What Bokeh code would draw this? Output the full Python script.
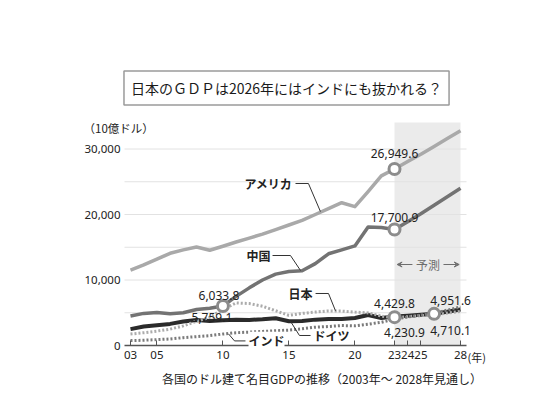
from bokeh.plotting import figure
from bokeh.models import (Range1d, FixedTicker, NumeralTickFormatter, BoxAnnotation,
                          Label, Arrow, VeeHead)
from bokeh.embed import file_html
from bokeh.resources import INLINE

# ---------------- data ----------------
years = list(range(2003, 2029))
usa = [11500, 12300, 13200, 14080, 14600, 15040, 14540, 15150, 15800, 16400, 17000, 17700, 18400,
       19100, 20000, 20900, 21800, 21200, 23500, 25900, 26949.6, 28100, 29200, 30400, 31600, 32800]
china = [4500, 4900, 5050, 4850, 5000, 5500, 5700, 6033.8, 7500, 8800, 10000, 10900, 11300,
         11400, 12500, 14000, 14600, 15200, 18100, 18000, 17700.9, 18900, 20100, 21400, 22700, 24000]
germany = [2500, 2900, 3100, 3300, 3650, 3900, 3750, 3850, 3950, 3900, 4000, 4150, 3700,
           3750, 3950, 4050, 4050, 4200, 4650, 4200, 4429.8, 4550, 4700, 4850, 5150, 5500]
japan = [1750, 1950, 2200, 2500, 3000, 3700, 4300, 5500, 6500, 6400, 6000, 5300, 4600,
         4900, 5100, 5280, 5250, 5100, 4980, 4500, 4230.9, 4400, 4550, 4710.1, 4950, 5200]
india = [750, 800, 900, 1000, 1200, 1350, 1500, 1750, 1950, 2050, 2150, 2250, 2350,
         2550, 2800, 2900, 3050, 3000, 3250, 3550, 4000, 4350, 4650, 4951.6, 5400, 5900]

callout_values = [26949.6, 17700.9, 6033.8, 5759.1, 4429.8, 4230.9, 4951.6, 4710.1]
x_ticks = [2003, 2005, 2010, 2015, 2020, 2023, 2024, 2025, 2028]
x_tick_labels = ["03", "05", "10", "15", "20", "23", "24", "25", "28"]
y_ticks = [0, 10000, 20000, 30000]
grid_ticks = [5000, 10000, 15000, 20000, 25000, 30000]
forecast_start, forecast_end = 2023, 2028

title_text = "日本のＧＤＰは2026年にはインドにも抜かれる？"
caption_text = "各国のドル建て名目GDPの推移（2003年～ 2028年見通し）"
unit_text = "（10億ドル）"
year_unit = "(年)"
forecast_text = "予測"

JP = "Noto Sans CJK JP"
NUM = "Noto Sans"

# ---------------- figure: frame covers the whole canvas, axes pinned ----------------
W, H = 524, 394
PX_YEAR = 13.2        # pixels per year
PX_K = 6.55           # pixels per 1000
X0_PIX, Y0_PIX = 130, 345   # pixel of (2003, 0)
x_lo = 2003 - X0_PIX / PX_YEAR
x_hi = 2003 + (W - X0_PIX) / PX_YEAR
y_lo = -(H - Y0_PIX) / PX_K * 1000
y_hi = Y0_PIX / PX_K * 1000
left_edge = 2003 - 6 / PX_YEAR
right_edge = 2028 + 6 / PX_YEAR

p = figure(width=W, height=H, x_range=Range1d(x_lo, x_hi), y_range=Range1d(y_lo, y_hi),
           output_backend="svg", toolbar_location=None, min_border=0)
p.outline_line_color = None
p.background_fill_color = "white"
p.border_fill_color = "white"
p.xgrid.visible = False
p.ygrid.visible = False

xa = p.xaxis[0]
xa.fixed_location = 0
xa.bounds = (left_edge, right_edge)
xa.ticker = FixedTicker(ticks=x_ticks)
xa.major_label_overrides = {t: l for t, l in zip(x_ticks, x_tick_labels)}
xa.axis_line_color = "#555555"
xa.axis_line_width = 1.5
xa.major_tick_line_color = "#555555"
xa.major_tick_in = 5
xa.major_tick_out = 0
xa.minor_tick_line_color = None
xa.major_label_standoff = 5
xa.major_label_text_font = NUM
xa.major_label_text_font_size = "11.5px"
xa.major_label_text_color = "#222222"

ya = p.yaxis[0]
ya.fixed_location = left_edge
ya.ticker = FixedTicker(ticks=y_ticks)
ya.formatter = NumeralTickFormatter(format="0,0")
ya.axis_line_color = None
ya.major_tick_line_color = None
ya.major_tick_in = 0
ya.major_tick_out = 0
ya.minor_tick_line_color = None
ya.major_label_standoff = 4
ya.major_label_text_font = NUM
ya.major_label_text_font_size = "11.5px"
ya.major_label_text_color = "#222222"

# forecast shading
p.add_layout(BoxAnnotation(left=forecast_start, right=forecast_end, bottom=0, top=34046,
                           fill_color="#ebebeb", fill_alpha=1, line_color=None, level="underlay"))

# horizontal grid lines
p.segment(x0=[left_edge] * len(grid_ticks), x1=[right_edge] * len(grid_ticks),
          y0=grid_ticks, y1=grid_ticks, line_color="#e2e2e2", line_width=1)

# ---------------- lines ----------------
p.line(years, usa, line_color="#a9a9a9", line_width=3.5, line_join="round")
p.line(years, china, line_color="#737373", line_width=3.5, line_join="round")
p.line(years, germany, line_color="#2b2b2b", line_width=4, line_join="round")
p.line(years, japan, line_color="#ababab", line_width=3, line_dash="2 2")
p.line(years, india, line_color="#7a7a7a", line_width=3, line_dash="2 2")

# markers
i10 = years.index(2010)
i23 = years.index(2023)
i26 = years.index(2026)
mx = [2010, 2023, 2023, 2023, 2026]
my = [china[i10], usa[i23], china[i23], (germany[i23] + japan[i23]) / 2, (india[i26] + japan[i26]) / 2]
p.scatter(mx, my, size=11, fill_color="white", line_color="#8c8c8c", line_width=3)

# ---------------- callout value labels ----------------
anchors = [(2023, usa[i23]), (2023, china[i23]), (2010, china[i10]), (2010, china[i10]),
           (2023, my[3]), (2023, my[3]), (2026, my[4]), (2026, my[4])]
offsets = [(0, 15.5), (0, 12.5), (-4, 10.5), (-11, -12), (0, 13.5), (10, -15.5), (16.5, 13.5), (16.5, -16.5)]
for v, (ax, ay), (ox, oy) in zip(callout_values, anchors, offsets):
    p.add_layout(Label(x=ax, y=ay, x_offset=ox, y_offset=oy, text=f"{v:,.1f}",
                       text_font=NUM, text_font_size="12px", text_color="#222222",
                       text_align="center", text_baseline="middle"))

# ---------------- series name labels & leaders ----------------
def name_label(x, y, text, align, bg=None):
    p.add_layout(Label(x=x, y=y, text=text, text_font=JP, text_font_size="12px",
                       text_font_style="bold", text_color="#222222",
                       text_align=align, text_baseline="middle",
                       background_fill_color=bg, background_fill_alpha=1 if bg else 0))

name_label(2015.27, 24733, "アメリカ", "right")
name_label(2013.60, 13740, "中国", "right")
name_label(2016.79, 7939, "日本", "right")
name_label(2016.86, 1527, "ドイツ", "left")
name_label(2011.94, 800, "インド", "left", bg="white")

leader_xs = [[2015.50, 2016.48, 2017.39], [2013.76, 2015.12, 2015.88], [2017.02, 2018.00, 2018.53],
             [2016.64, 2015.80, 2015.12], [2011.71, 2010.88, 2010.42]]
leader_ys = [[24733, 24733, 20450], [13740, 13740, 11450], [7939, 7939, 5300],
             [1527, 1527, 3700], [700, 700, 1780]]
p.multi_line(leader_xs, leader_ys, line_color="#333333", line_width=1)

# forecast tag
p.add_layout(Label(x=2025.54, y=12366, text=forecast_text, text_font=JP, text_font_size="12px",
                   text_color="#6e6e6e", text_align="center", text_baseline="middle"))
p.add_layout(Arrow(end=VeeHead(size=5, line_color="#6e6e6e", fill_color="#6e6e6e"),
                   x_start=2024.36, y_start=12366, x_end=2023.2, y_end=12366,
                   line_color="#6e6e6e", line_width=1))
p.add_layout(Arrow(end=VeeHead(size=5, line_color="#6e6e6e", fill_color="#6e6e6e"),
                   x_start=2026.71, y_start=12366, x_end=2027.9, y_end=12366,
                   line_color="#6e6e6e", line_width=1))

# ---------------- title, unit, caption ----------------
p.add_layout(Label(x=2014.82, y=39313, text=title_text, text_font=JP, text_font_size="14px",
                   text_color="#1a1a1a", text_align="center", text_baseline="middle",
                   border_line_color="#9a9a9a", border_line_width=1.5,
                   background_fill_color="white", padding=7))
p.add_layout(Label(x=1999.44, y=33282, text=unit_text, text_font=JP, text_font_size="11.5px",
                   text_color="#222222", text_align="left", text_baseline="middle"))
p.add_layout(Label(x=2028.53, y=-1680, text=year_unit, text_font=JP, text_font_size="11px",
                   text_color="#222222", text_align="left", text_baseline="middle"))
p.add_layout(Label(x=2017.51, y=-5038, text=caption_text, text_font=JP, text_font_size="12px",
                   text_color="#222222", text_align="center", text_baseline="middle"))

open("out.html", "w").write(file_html(p, INLINE))
